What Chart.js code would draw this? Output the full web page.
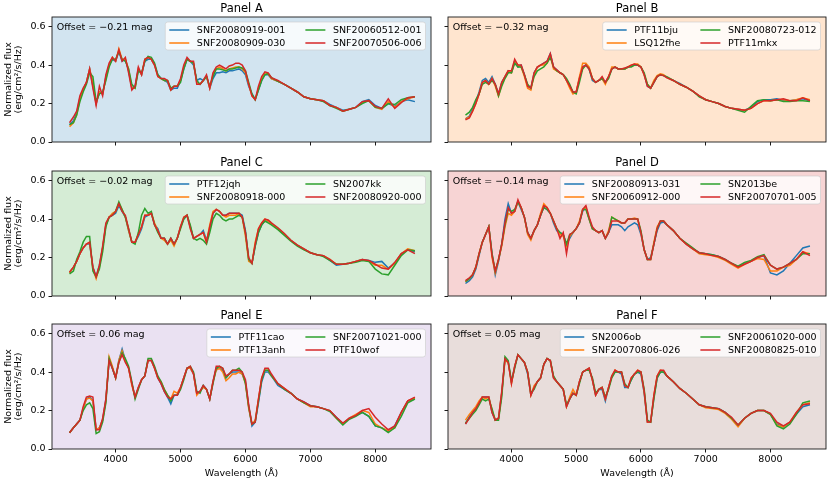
<!DOCTYPE html>
<html lang="en">
<head>
  <meta charset="UTF-8">
  <title>SN Ia spectra by panel</title>
  <script src="https://cdn.jsdelivr.net/npm/chart.js"></script>
  <style>
    body { margin: 0; background: #fff; }
    #fig { position: relative; width: 830px; height: 485px; }
    #fig canvas { position: absolute; }
  </style>
</head>
<body>
<div id="fig">
  <canvas id="panelA"></canvas>
  <canvas id="panelB"></canvas>
  <canvas id="panelC"></canvas>
  <canvas id="panelD"></canvas>
  <canvas id="panelE"></canvas>
  <canvas id="panelF"></canvas>
</div>

<script>
// wavelength grid (Angstrom), shared by every spectrum
const wavelength = [3290, 3350, 3400, 3450, 3500, 3550, 3600, 3650, 3700, 3750,
  3800, 3850, 3900, 3950, 4000, 4050, 4100, 4150, 4200, 4250,
  4300, 4350, 4400, 4450, 4500, 4550, 4600, 4650, 4700, 4750,
  4800, 4850, 4900, 4950, 5000, 5050, 5100, 5150, 5200, 5250,
  5300, 5350, 5400, 5450, 5500, 5550, 5600, 5650, 5700, 5750,
  5800, 5850, 5900, 5950, 6000, 6050, 6100, 6150, 6200, 6250,
  6300, 6350, 6400, 6500, 6600, 6700, 6800, 6900, 7000, 7100,
  7200, 7300, 7400, 7500, 7600, 7700, 7800, 7900, 8000, 8100,
  8200, 8300, 8400, 8500, 8610];

const xTicks = [4000, 5000, 6000, 7000, 8000];
const yTicks = [0, 0.2, 0.4, 0.6];

// Panel A
const snf20080919_001 = [0.09, 0.11, 0.15, 0.23, 0.27, 0.31, 0.38, 0.29, 0.20, 0.26,
  0.25, 0.34, 0.40, 0.43, 0.42, 0.47, 0.42, 0.43, 0.37, 0.28,
  0.29, 0.38, 0.35, 0.42, 0.43, 0.43, 0.40, 0.35, 0.33, 0.32,
  0.31, 0.27, 0.28, 0.28, 0.32, 0.38, 0.43, 0.42, 0.40, 0.32,
  0.33, 0.32, 0.34, 0.28, 0.33, 0.36, 0.36, 0.365, 0.36, 0.37,
  0.37, 0.375, 0.38, 0.37, 0.35, 0.29, 0.25, 0.22, 0.27, 0.32,
  0.35, 0.35, 0.33, 0.315, 0.30, 0.28, 0.26, 0.235, 0.225, 0.22,
  0.215, 0.195, 0.18, 0.165, 0.17, 0.18, 0.21, 0.22, 0.19, 0.175,
  0.20, 0.185, 0.21, 0.22, 0.21];
const snf20080909_030 = [0.08, 0.10, 0.14, 0.22, 0.27, 0.31, 0.38, 0.31, 0.20, 0.26,
  0.25, 0.33, 0.40, 0.44, 0.42, 0.485, 0.43, 0.43, 0.38, 0.28,
  0.28, 0.38, 0.35, 0.43, 0.44, 0.43, 0.40, 0.34, 0.33, 0.32,
  0.32, 0.27, 0.29, 0.29, 0.32, 0.39, 0.43, 0.42, 0.41, 0.31,
  0.30, 0.32, 0.34, 0.28, 0.35, 0.38, 0.39, 0.38, 0.37, 0.38,
  0.385, 0.39, 0.39, 0.38, 0.36, 0.30, 0.24, 0.22, 0.28, 0.33,
  0.36, 0.355, 0.33, 0.315, 0.30, 0.28, 0.26, 0.235, 0.225, 0.22,
  0.215, 0.19, 0.18, 0.16, 0.17, 0.18, 0.205, 0.215, 0.18, 0.17,
  0.21, 0.18, 0.21, 0.225, 0.235];
const snf20060512_001 = [0.09, 0.10, 0.14, 0.21, 0.26, 0.30, 0.36, 0.34, 0.21, 0.25,
  0.26, 0.32, 0.39, 0.43, 0.43, 0.47, 0.43, 0.42, 0.38, 0.30,
  0.28, 0.37, 0.36, 0.42, 0.445, 0.44, 0.41, 0.35, 0.33, 0.32,
  0.32, 0.28, 0.29, 0.29, 0.31, 0.38, 0.43, 0.42, 0.41, 0.32,
  0.30, 0.32, 0.34, 0.29, 0.34, 0.38, 0.38, 0.375, 0.37, 0.38,
  0.38, 0.385, 0.39, 0.385, 0.37, 0.31, 0.25, 0.22, 0.27, 0.32,
  0.35, 0.355, 0.335, 0.315, 0.30, 0.28, 0.26, 0.235, 0.225, 0.22,
  0.21, 0.19, 0.175, 0.16, 0.17, 0.18, 0.20, 0.215, 0.18, 0.175,
  0.20, 0.195, 0.22, 0.23, 0.235];
const snf20070506_006 = [0.10, 0.13, 0.16, 0.24, 0.28, 0.31, 0.38, 0.28, 0.19, 0.29,
  0.24, 0.35, 0.41, 0.44, 0.42, 0.48, 0.42, 0.44, 0.36, 0.27,
  0.29, 0.39, 0.35, 0.43, 0.44, 0.43, 0.40, 0.34, 0.33, 0.33,
  0.32, 0.27, 0.29, 0.29, 0.33, 0.40, 0.44, 0.42, 0.42, 0.30,
  0.30, 0.32, 0.35, 0.28, 0.36, 0.39, 0.40, 0.39, 0.38, 0.395,
  0.40, 0.41, 0.41, 0.40, 0.37, 0.30, 0.24, 0.22, 0.29, 0.34,
  0.365, 0.36, 0.335, 0.32, 0.30, 0.28, 0.26, 0.235, 0.225, 0.22,
  0.215, 0.19, 0.18, 0.16, 0.17, 0.18, 0.21, 0.215, 0.185, 0.175,
  0.225, 0.175, 0.205, 0.23, 0.235];

// Panel B
const ptf11bju = [0.12, 0.135, 0.17, 0.21, 0.26, 0.32, 0.33, 0.31, 0.34, 0.30,
  0.25, 0.31, 0.34, 0.37, 0.36, 0.42, 0.39, 0.40, 0.35, 0.29,
  0.28, 0.36, 0.39, 0.40, 0.41, 0.42, 0.46, 0.39, 0.375, 0.36,
  0.35, 0.32, 0.29, 0.26, 0.26, 0.33, 0.39, 0.40, 0.38, 0.32,
  0.31, 0.32, 0.33, 0.31, 0.34, 0.38, 0.39, 0.38, 0.38, 0.38,
  0.39, 0.395, 0.40, 0.40, 0.39, 0.35, 0.29, 0.28, 0.31, 0.34,
  0.35, 0.345, 0.335, 0.32, 0.305, 0.285, 0.265, 0.24, 0.22, 0.21,
  0.20, 0.185, 0.175, 0.17, 0.165, 0.18, 0.21, 0.22, 0.22, 0.225,
  0.215, 0.215, 0.22, 0.225, 0.215];
const lsq12fhe = [0.12, 0.13, 0.16, 0.20, 0.25, 0.31, 0.32, 0.30, 0.33, 0.29,
  0.24, 0.30, 0.34, 0.37, 0.36, 0.42, 0.40, 0.39, 0.34, 0.28,
  0.27, 0.35, 0.39, 0.40, 0.40, 0.41, 0.45, 0.38, 0.37, 0.36,
  0.35, 0.32, 0.28, 0.25, 0.26, 0.34, 0.41, 0.41, 0.39, 0.33,
  0.31, 0.32, 0.33, 0.30, 0.34, 0.39, 0.39, 0.38, 0.38, 0.38,
  0.39, 0.40, 0.405, 0.405, 0.39, 0.35, 0.30, 0.28, 0.32, 0.345,
  0.355, 0.35, 0.335, 0.32, 0.30, 0.285, 0.265, 0.24, 0.22, 0.21,
  0.20, 0.185, 0.175, 0.17, 0.165, 0.175, 0.20, 0.215, 0.215, 0.22,
  0.22, 0.215, 0.22, 0.23, 0.22];
const snf20080723_012 = [0.14, 0.155, 0.18, 0.22, 0.25, 0.30, 0.31, 0.30, 0.32, 0.30,
  0.24, 0.29, 0.33, 0.36, 0.36, 0.41, 0.39, 0.39, 0.35, 0.30,
  0.28, 0.34, 0.37, 0.38, 0.39, 0.41, 0.44, 0.39, 0.37, 0.36,
  0.35, 0.33, 0.30, 0.26, 0.25, 0.31, 0.38, 0.40, 0.38, 0.33,
  0.31, 0.32, 0.33, 0.31, 0.33, 0.38, 0.39, 0.38, 0.38, 0.38,
  0.39, 0.39, 0.40, 0.40, 0.39, 0.36, 0.30, 0.28, 0.31, 0.34,
  0.35, 0.345, 0.34, 0.32, 0.30, 0.285, 0.265, 0.235, 0.22, 0.21,
  0.20, 0.185, 0.175, 0.165, 0.155, 0.185, 0.215, 0.22, 0.215, 0.22,
  0.21, 0.21, 0.215, 0.215, 0.21];
const ptf11mkx = [0.115, 0.125, 0.16, 0.20, 0.25, 0.31, 0.32, 0.30, 0.33, 0.30,
  0.25, 0.31, 0.34, 0.37, 0.37, 0.43, 0.40, 0.40, 0.35, 0.29,
  0.28, 0.36, 0.39, 0.40, 0.41, 0.42, 0.46, 0.39, 0.375, 0.36,
  0.35, 0.32, 0.29, 0.26, 0.26, 0.33, 0.39, 0.40, 0.38, 0.33,
  0.31, 0.32, 0.34, 0.31, 0.34, 0.38, 0.39, 0.38, 0.38, 0.385,
  0.39, 0.40, 0.405, 0.40, 0.39, 0.35, 0.29, 0.28, 0.31, 0.34,
  0.35, 0.345, 0.335, 0.32, 0.30, 0.285, 0.265, 0.24, 0.22, 0.21,
  0.20, 0.185, 0.175, 0.17, 0.165, 0.175, 0.20, 0.215, 0.215, 0.22,
  0.225, 0.215, 0.215, 0.23, 0.215];

// Panel C
const ptf12jqh = [0.12, 0.15, 0.18, 0.22, 0.25, 0.27, 0.27, 0.15, 0.10, 0.16,
  0.25, 0.37, 0.41, 0.42, 0.43, 0.47, 0.44, 0.41, 0.34, 0.28,
  0.28, 0.31, 0.35, 0.41, 0.42, 0.43, 0.37, 0.35, 0.30, 0.30,
  0.27, 0.30, 0.27, 0.30, 0.36, 0.40, 0.42, 0.36, 0.30, 0.31,
  0.32, 0.34, 0.29, 0.35, 0.43, 0.45, 0.44, 0.42, 0.42, 0.43,
  0.43, 0.43, 0.43, 0.42, 0.34, 0.19, 0.17, 0.26, 0.33, 0.37,
  0.39, 0.39, 0.375, 0.35, 0.32, 0.29, 0.265, 0.245, 0.225, 0.215,
  0.21, 0.185, 0.16, 0.165, 0.17, 0.18, 0.19, 0.185, 0.175, 0.18,
  0.145, 0.17, 0.22, 0.24, 0.23];
const snf20080918_000 = [0.12, 0.15, 0.18, 0.22, 0.25, 0.27, 0.28, 0.14, 0.09, 0.15,
  0.25, 0.37, 0.41, 0.43, 0.44, 0.48, 0.45, 0.41, 0.34, 0.28,
  0.28, 0.32, 0.36, 0.42, 0.42, 0.43, 0.38, 0.34, 0.30, 0.29,
  0.27, 0.29, 0.26, 0.30, 0.36, 0.41, 0.42, 0.36, 0.30, 0.31,
  0.32, 0.33, 0.28, 0.37, 0.44, 0.45, 0.44, 0.42, 0.41, 0.42,
  0.42, 0.42, 0.43, 0.41, 0.31, 0.18, 0.17, 0.28, 0.35, 0.38,
  0.40, 0.39, 0.375, 0.35, 0.32, 0.29, 0.265, 0.245, 0.225, 0.215,
  0.21, 0.19, 0.165, 0.165, 0.17, 0.18, 0.19, 0.18, 0.16, 0.16,
  0.14, 0.17, 0.22, 0.245, 0.235];
const sn2007kk = [0.115, 0.13, 0.19, 0.23, 0.28, 0.31, 0.31, 0.13, 0.10, 0.14,
  0.23, 0.36, 0.41, 0.42, 0.44, 0.49, 0.45, 0.41, 0.35, 0.28,
  0.27, 0.33, 0.42, 0.455, 0.43, 0.44, 0.37, 0.33, 0.30, 0.30,
  0.27, 0.30, 0.27, 0.30, 0.35, 0.40, 0.42, 0.37, 0.30, 0.29,
  0.30, 0.29, 0.27, 0.33, 0.40, 0.43, 0.42, 0.40, 0.39, 0.40,
  0.40, 0.41, 0.42, 0.41, 0.33, 0.19, 0.17, 0.26, 0.33, 0.37,
  0.39, 0.38, 0.37, 0.345, 0.315, 0.285, 0.26, 0.24, 0.225, 0.215,
  0.205, 0.185, 0.165, 0.165, 0.17, 0.175, 0.185, 0.18, 0.14, 0.115,
  0.11, 0.16, 0.21, 0.24, 0.235];
const snf20080920_000 = [0.125, 0.15, 0.18, 0.22, 0.25, 0.27, 0.28, 0.15, 0.10, 0.16,
  0.26, 0.38, 0.41, 0.42, 0.44, 0.48, 0.44, 0.42, 0.35, 0.28,
  0.28, 0.32, 0.36, 0.42, 0.42, 0.43, 0.37, 0.34, 0.30, 0.30,
  0.27, 0.30, 0.27, 0.30, 0.36, 0.41, 0.42, 0.35, 0.30, 0.31,
  0.32, 0.33, 0.28, 0.36, 0.43, 0.45, 0.44, 0.42, 0.42, 0.43,
  0.43, 0.43, 0.43, 0.41, 0.33, 0.20, 0.17, 0.27, 0.35, 0.38,
  0.40, 0.395, 0.38, 0.355, 0.325, 0.29, 0.265, 0.245, 0.225, 0.215,
  0.21, 0.19, 0.165, 0.165, 0.17, 0.18, 0.19, 0.185, 0.165, 0.145,
  0.14, 0.175, 0.22, 0.24, 0.22];

// Panel D
const snf20080913_031 = [0.065, 0.08, 0.10, 0.14, 0.21, 0.28, 0.32, 0.36, 0.22, 0.11,
  0.18, 0.27, 0.40, 0.48, 0.43, 0.44, 0.49, 0.45, 0.41, 0.33,
  0.30, 0.34, 0.37, 0.42, 0.46, 0.45, 0.43, 0.38, 0.34, 0.33,
  0.32, 0.27, 0.30, 0.33, 0.35, 0.38, 0.44, 0.46, 0.40, 0.35,
  0.34, 0.33, 0.34, 0.30, 0.33, 0.37, 0.37, 0.37, 0.36, 0.34,
  0.36, 0.37, 0.38, 0.37, 0.32, 0.24, 0.19, 0.20, 0.27, 0.34,
  0.38, 0.385, 0.37, 0.34, 0.30, 0.27, 0.245, 0.225, 0.22, 0.215,
  0.205, 0.19, 0.17, 0.15, 0.17, 0.18, 0.20, 0.21, 0.12, 0.11,
  0.13, 0.17, 0.21, 0.25, 0.26];
const snf20060912_000 = [0.075, 0.09, 0.11, 0.15, 0.22, 0.28, 0.32, 0.36, 0.20, 0.12,
  0.19, 0.26, 0.36, 0.43, 0.42, 0.44, 0.49, 0.46, 0.41, 0.32,
  0.29, 0.34, 0.37, 0.43, 0.48, 0.46, 0.43, 0.39, 0.35, 0.32,
  0.31, 0.26, 0.31, 0.33, 0.35, 0.39, 0.45, 0.46, 0.40, 0.35,
  0.34, 0.33, 0.34, 0.30, 0.34, 0.41, 0.40, 0.39, 0.38, 0.38,
  0.40, 0.40, 0.405, 0.40, 0.33, 0.24, 0.19, 0.19, 0.28, 0.36,
  0.39, 0.39, 0.37, 0.34, 0.30, 0.27, 0.245, 0.22, 0.215, 0.21,
  0.20, 0.185, 0.165, 0.145, 0.165, 0.18, 0.195, 0.19, 0.13, 0.13,
  0.15, 0.16, 0.19, 0.23, 0.22];
const sn2013be = [0.075, 0.09, 0.11, 0.15, 0.22, 0.28, 0.32, 0.36, 0.22, 0.13,
  0.19, 0.27, 0.37, 0.45, 0.44, 0.45, 0.49, 0.46, 0.41, 0.33,
  0.30, 0.34, 0.37, 0.42, 0.46, 0.45, 0.43, 0.39, 0.35, 0.33,
  0.32, 0.27, 0.32, 0.33, 0.35, 0.38, 0.45, 0.45, 0.40, 0.35,
  0.34, 0.33, 0.34, 0.30, 0.33, 0.41, 0.40, 0.39, 0.38, 0.38,
  0.40, 0.40, 0.40, 0.40, 0.34, 0.24, 0.19, 0.19, 0.27, 0.35,
  0.39, 0.39, 0.37, 0.34, 0.30, 0.275, 0.25, 0.225, 0.22, 0.215,
  0.205, 0.19, 0.17, 0.155, 0.175, 0.185, 0.205, 0.215, 0.16, 0.14,
  0.15, 0.17, 0.19, 0.22, 0.22];
const snf20070701_005 = [0.08, 0.095, 0.11, 0.15, 0.22, 0.28, 0.32, 0.36, 0.21, 0.13,
  0.19, 0.27, 0.38, 0.46, 0.43, 0.44, 0.50, 0.46, 0.41, 0.33,
  0.30, 0.34, 0.37, 0.42, 0.47, 0.46, 0.43, 0.39, 0.35, 0.30,
  0.33, 0.22, 0.32, 0.33, 0.35, 0.38, 0.45, 0.47, 0.41, 0.36,
  0.34, 0.33, 0.34, 0.30, 0.33, 0.39, 0.39, 0.39, 0.38, 0.38,
  0.40, 0.40, 0.40, 0.40, 0.33, 0.24, 0.19, 0.19, 0.27, 0.35,
  0.39, 0.39, 0.37, 0.34, 0.30, 0.27, 0.245, 0.225, 0.22, 0.21,
  0.205, 0.19, 0.17, 0.15, 0.165, 0.18, 0.20, 0.21, 0.16, 0.14,
  0.15, 0.17, 0.19, 0.23, 0.21];

// Panel E
const ptf11cao = [0.085, 0.11, 0.13, 0.15, 0.21, 0.26, 0.27, 0.25, 0.10, 0.11,
  0.15, 0.26, 0.46, 0.42, 0.37, 0.46, 0.52, 0.46, 0.42, 0.34,
  0.27, 0.32, 0.36, 0.38, 0.46, 0.46, 0.42, 0.37, 0.34, 0.30,
  0.27, 0.235, 0.28, 0.28, 0.32, 0.37, 0.42, 0.42, 0.39, 0.29,
  0.30, 0.33, 0.31, 0.26, 0.35, 0.42, 0.42, 0.41, 0.37, 0.39,
  0.40, 0.40, 0.40, 0.39, 0.35, 0.22, 0.12, 0.14, 0.24, 0.35,
  0.40, 0.40, 0.38, 0.33, 0.31, 0.29, 0.26, 0.245, 0.225, 0.22,
  0.21, 0.20, 0.165, 0.13, 0.16, 0.175, 0.19, 0.17, 0.12, 0.11,
  0.09, 0.12, 0.19, 0.25, 0.26];
const ptf13anh = [0.085, 0.11, 0.13, 0.15, 0.21, 0.26, 0.265, 0.25, 0.10, 0.11,
  0.15, 0.25, 0.48, 0.43, 0.37, 0.46, 0.51, 0.46, 0.42, 0.33,
  0.27, 0.32, 0.36, 0.38, 0.46, 0.46, 0.42, 0.37, 0.35, 0.31,
  0.28, 0.26, 0.30, 0.29, 0.32, 0.37, 0.42, 0.42, 0.39, 0.28,
  0.30, 0.32, 0.31, 0.26, 0.35, 0.41, 0.42, 0.40, 0.355, 0.37,
  0.39, 0.39, 0.40, 0.39, 0.34, 0.21, 0.13, 0.15, 0.26, 0.37,
  0.41, 0.41, 0.38, 0.34, 0.315, 0.29, 0.26, 0.24, 0.22, 0.22,
  0.21, 0.20, 0.16, 0.13, 0.16, 0.18, 0.20, 0.19, 0.13, 0.11,
  0.095, 0.11, 0.19, 0.25, 0.265];
const snf20071021_000 = [0.085, 0.11, 0.13, 0.15, 0.20, 0.23, 0.24, 0.21, 0.08, 0.09,
  0.14, 0.24, 0.47, 0.42, 0.37, 0.45, 0.50, 0.47, 0.43, 0.35,
  0.26, 0.31, 0.36, 0.38, 0.47, 0.47, 0.43, 0.38, 0.35, 0.31,
  0.28, 0.25, 0.28, 0.28, 0.31, 0.36, 0.42, 0.43, 0.40, 0.30,
  0.29, 0.33, 0.31, 0.26, 0.34, 0.42, 0.43, 0.42, 0.37, 0.39,
  0.41, 0.41, 0.42, 0.40, 0.34, 0.22, 0.13, 0.14, 0.25, 0.36,
  0.41, 0.41, 0.38, 0.34, 0.31, 0.29, 0.26, 0.24, 0.225, 0.22,
  0.21, 0.195, 0.16, 0.125, 0.155, 0.17, 0.19, 0.17, 0.12, 0.11,
  0.085, 0.11, 0.17, 0.24, 0.26];
const ptf10wof = [0.085, 0.11, 0.13, 0.15, 0.22, 0.27, 0.275, 0.27, 0.10, 0.10,
  0.16, 0.26, 0.46, 0.42, 0.37, 0.45, 0.49, 0.45, 0.42, 0.34,
  0.27, 0.32, 0.36, 0.38, 0.46, 0.46, 0.42, 0.37, 0.34, 0.30,
  0.27, 0.26, 0.28, 0.28, 0.32, 0.37, 0.42, 0.43, 0.39, 0.29,
  0.30, 0.33, 0.31, 0.26, 0.35, 0.43, 0.43, 0.42, 0.38, 0.39,
  0.41, 0.41, 0.41, 0.40, 0.36, 0.23, 0.13, 0.14, 0.26, 0.37,
  0.42, 0.42, 0.39, 0.34, 0.315, 0.29, 0.26, 0.245, 0.225, 0.22,
  0.21, 0.20, 0.165, 0.135, 0.16, 0.175, 0.20, 0.21, 0.165, 0.13,
  0.10, 0.12, 0.19, 0.25, 0.27];

// Panel F
const sn2006ob = [0.13, 0.17, 0.19, 0.21, 0.24, 0.27, 0.27, 0.27, 0.19, 0.15,
  0.16, 0.29, 0.47, 0.45, 0.35, 0.43, 0.49, 0.47, 0.45, 0.39,
  0.28, 0.32, 0.35, 0.37, 0.44, 0.47, 0.46, 0.37, 0.35, 0.33,
  0.31, 0.22, 0.26, 0.29, 0.28, 0.35, 0.40, 0.41, 0.42, 0.36,
  0.28, 0.31, 0.31, 0.25, 0.32, 0.38, 0.40, 0.40, 0.39, 0.32,
  0.32, 0.36, 0.39, 0.40, 0.39, 0.29, 0.14, 0.14, 0.27, 0.37,
  0.40, 0.40, 0.38, 0.35, 0.315, 0.29, 0.26, 0.23, 0.22, 0.215,
  0.21, 0.19, 0.16, 0.12, 0.16, 0.185, 0.20, 0.20, 0.18, 0.13,
  0.115, 0.14, 0.18, 0.22, 0.23];
const snf20070806_026 = [0.15, 0.18, 0.20, 0.22, 0.25, 0.27, 0.26, 0.27, 0.20, 0.15,
  0.16, 0.29, 0.46, 0.45, 0.34, 0.43, 0.49, 0.47, 0.45, 0.40,
  0.28, 0.33, 0.35, 0.37, 0.44, 0.47, 0.46, 0.37, 0.35, 0.33,
  0.31, 0.22, 0.27, 0.31, 0.28, 0.35, 0.40, 0.41, 0.42, 0.36,
  0.28, 0.31, 0.32, 0.26, 0.32, 0.38, 0.41, 0.40, 0.40, 0.33,
  0.32, 0.37, 0.39, 0.41, 0.40, 0.30, 0.14, 0.14, 0.28, 0.38,
  0.41, 0.405, 0.38, 0.35, 0.315, 0.29, 0.26, 0.23, 0.215, 0.21,
  0.205, 0.185, 0.155, 0.115, 0.16, 0.185, 0.20, 0.20, 0.18, 0.125,
  0.115, 0.14, 0.19, 0.23, 0.24];
const snf20061020_000 = [0.135, 0.16, 0.18, 0.20, 0.23, 0.26, 0.25, 0.26, 0.21, 0.15,
  0.15, 0.27, 0.48, 0.46, 0.35, 0.42, 0.49, 0.47, 0.45, 0.40,
  0.29, 0.31, 0.35, 0.37, 0.44, 0.47, 0.46, 0.38, 0.35, 0.33,
  0.31, 0.23, 0.26, 0.29, 0.28, 0.34, 0.40, 0.41, 0.41, 0.37,
  0.29, 0.31, 0.32, 0.27, 0.31, 0.37, 0.40, 0.40, 0.40, 0.34,
  0.32, 0.36, 0.39, 0.40, 0.40, 0.31, 0.15, 0.14, 0.26, 0.37,
  0.40, 0.40, 0.38, 0.35, 0.315, 0.29, 0.26, 0.23, 0.22, 0.215,
  0.21, 0.19, 0.16, 0.125, 0.16, 0.185, 0.20, 0.20, 0.18, 0.12,
  0.105, 0.13, 0.18, 0.24, 0.25];
const snf20080825_010 = [0.13, 0.16, 0.19, 0.21, 0.24, 0.27, 0.27, 0.27, 0.19, 0.15,
  0.16, 0.30, 0.47, 0.45, 0.34, 0.43, 0.49, 0.47, 0.45, 0.40,
  0.28, 0.32, 0.35, 0.37, 0.44, 0.47, 0.46, 0.37, 0.35, 0.33,
  0.31, 0.22, 0.26, 0.29, 0.28, 0.35, 0.40, 0.41, 0.42, 0.36,
  0.28, 0.31, 0.32, 0.26, 0.32, 0.38, 0.41, 0.40, 0.40, 0.33,
  0.32, 0.37, 0.39, 0.41, 0.40, 0.30, 0.14, 0.14, 0.28, 0.38,
  0.41, 0.41, 0.38, 0.35, 0.315, 0.29, 0.26, 0.23, 0.22, 0.215,
  0.21, 0.19, 0.165, 0.125, 0.16, 0.185, 0.20, 0.20, 0.185, 0.14,
  0.12, 0.14, 0.19, 0.23, 0.235];

const namesA = ['SNF20080919-001', 'SNF20080909-030', 'SNF20060512-001', 'SNF20070506-006'];
const namesB = ['PTF11bju', 'LSQ12fhe', 'SNF20080723-012', 'PTF11mkx'];
const namesC = ['PTF12jqh', 'SNF20080918-000', 'SN2007kk', 'SNF20080920-000'];
const namesD = ['SNF20080913-031', 'SNF20060912-000', 'SN2013be', 'SNF20070701-005'];
const namesE = ['PTF11cao', 'PTF13anh', 'SNF20071021-000', 'PTF10wof'];
const namesF = ['SN2006ob', 'SNF20070806-026', 'SNF20061020-000', 'SNF20080825-010'];

const offsets = ['\u22120.21', '\u22120.32', '\u22120.02', '\u22120.14', '0.06', '0.05'];

const lineColors = ['#1f77b4', '#ff7f0e', '#2ca02c', '#d62728'];
const faceColors = ['#d2e4f0', '#ffe5cf', '#d5ecd5', '#f7d4d4', '#eae1f2', '#e8dddb'];

Chart.defaults.font.family = "'DejaVu Sans', sans-serif";
Chart.defaults.color = '#000';

// axes boxes in page pixels (matplotlib-like grid of 3 rows x 2 cols)
const cols = [
  { canvasX: 0, canvasW: 436, padL: 52, padR: 5 },
  { canvasX: 436, canvasW: 394, padL: 12, padR: 4 }
];
const rows = [
  { canvasY: 0, canvasH: 154, padT: 17, padB: 12 },
  { canvasY: 154, canvasH: 154, padT: 17, padB: 12 },
  { canvasY: 307, canvasH: 178, padT: 17, padB: 36 }
];

// background, frame, title, offset note and a two-column legend
const panelDecor = {
  id: 'panelDecor',
  beforeDraw(chart, args, opts) {
    const { ctx, chartArea: a } = chart;
    ctx.save();
    ctx.fillStyle = opts.face;
    ctx.fillRect(a.left, a.top, a.right - a.left, a.bottom - a.top);
    ctx.restore();
  },
  afterDatasetsDraw(chart, args, opts) {
    const { ctx, chartArea: a } = chart;
    ctx.save();
    ctx.strokeStyle = '#1a1a1a';
    ctx.lineWidth = 0.9;
    ctx.strokeRect(a.left, a.top, a.right - a.left, a.bottom - a.top);

    ctx.fillStyle = '#000';
    ctx.font = "11.5px 'DejaVu Sans'";
    ctx.textAlign = 'center';
    ctx.textBaseline = 'alphabetic';
    ctx.fillText(opts.title, (a.left + a.right) / 2, a.top - 5.3);

    ctx.font = "9.5px 'DejaVu Sans'";
    ctx.textAlign = 'left';
    ctx.fillText('Offset = ' + opts.offset + ' mag', a.left + 4.7, a.top + 13.2);

    // legend, filled column by column like matplotlib ncol=2
    const names = chart.data.datasets.map(d => d.label);
    const w = names.map(n => ctx.measureText(n).width);
    const handle = 20, gap = 7.6, colGap = 20, pad = 4;
    const col1 = handle + gap + Math.max(w[0], w[1]);
    const col2 = handle + gap + Math.max(w[2], w[3]);
    const boxW = pad * 2 + col1 + colGap + col2;
    const boxH = 28;
    const right = a.right - 5.5, top = a.top + 5;
    const left = right - boxW;
    ctx.beginPath();
    ctx.roundRect(left, top, boxW, boxH, 2.5);
    ctx.fillStyle = 'rgba(255,255,255,0.8)';
    ctx.fill();
    ctx.strokeStyle = 'rgba(204,204,204,0.8)';
    ctx.lineWidth = 0.8;
    ctx.stroke();
    const rowY = [top + 8, top + 21];
    chart.data.datasets.forEach((d, i) => {
      const cx = left + pad + (i < 2 ? 0 : col1 + colGap);
      const cy = rowY[i % 2];
      ctx.strokeStyle = d.borderColor;
      ctx.lineWidth = 1.5;
      ctx.beginPath();
      ctx.moveTo(cx, cy);
      ctx.lineTo(cx + handle, cy);
      ctx.stroke();
      ctx.fillStyle = '#000';
      ctx.fillText(d.label, cx + handle + gap, cy + 3.4);
    });
    ctx.restore();
  }
};

function makePanel(id, idx, names, series) {
  const col = cols[idx % 2];
  const row = rows[Math.floor(idx / 2)];
  const bottomRow = idx >= 4;
  const leftCol = idx % 2 === 0;
  const canvas = document.getElementById(id);
  canvas.width = col.canvasW;
  canvas.height = row.canvasH;
  canvas.style.left = col.canvasX + 'px';
  canvas.style.top = row.canvasY + 'px';

  const datasets = series.map((vals, i) => ({
    label: names[i],
    data: wavelength.map((x, j) => ({ x: x, y: vals[j] })),
    borderColor: lineColors[i],
    backgroundColor: lineColors[i],
    borderWidth: 1.5,
    pointRadius: 0,
    tension: 0,
    fill: false,
    order: 3 - i
  }));

  return new Chart(canvas, {
    type: 'line',
    data: { datasets: datasets },
    plugins: [panelDecor],
    options: {
      responsive: false,
      animation: false,
      events: [],
      layout: { padding: { top: row.padT, right: col.padR, left: 0, bottom: 0 } },
      plugins: {
        legend: { display: false },
        tooltip: { enabled: false },
        panelDecor: { face: faceColors[idx], title: 'Panel ' + 'ABCDEF'[idx], offset: offsets[idx] }
      },
      scales: {
        x: {
          type: 'linear',
          min: 3020,
          max: 8858,
          afterBuildTicks: s => { s.ticks = xTicks.map(v => ({ value: v })); },
          afterFit: s => { s.height = row.padB; },
          border: { display: false },
          grid: { drawOnChartArea: false, drawTicks: true, tickLength: 3.5, tickColor: '#000', tickWidth: 0.9 },
          ticks: {
            autoSkip: false, maxRotation: 0, padding: 1,
            font: { size: 9.5 },
            callback: v => bottomRow ? String(v) : ''
          },
          title: {
            display: bottomRow,
            text: 'Wavelength (\u00c5)',
            font: { size: 9.5 },
            padding: { top: 0, bottom: 5.3 }
          }
        },
        y: {
          min: 0,
          max: 0.65,
          afterBuildTicks: s => { s.ticks = yTicks.map(v => ({ value: v })); },
          afterFit: s => { s.width = col.padL; },
          border: { display: false },
          grid: { drawOnChartArea: false, drawTicks: true, tickLength: 3.5, tickColor: '#000', tickWidth: 0.9 },
          ticks: {
            padding: 3,
            font: { size: 9.5 },
            callback: v => leftCol ? v.toFixed(1) : ''
          },
          title: {
            display: leftCol,
            text: ['Normalized flux', '(erg/cm\u00b2/s/Hz)'],
            font: { size: 9.5, lineHeight: 1.1 },
            padding: { top: 3, bottom: 0 }
          }
        }
      }
    }
  });
}

makePanel('panelA', 0, namesA, [snf20080919_001, snf20080909_030, snf20060512_001, snf20070506_006]);
makePanel('panelB', 1, namesB, [ptf11bju, lsq12fhe, snf20080723_012, ptf11mkx]);
makePanel('panelC', 2, namesC, [ptf12jqh, snf20080918_000, sn2007kk, snf20080920_000]);
makePanel('panelD', 3, namesD, [snf20080913_031, snf20060912_000, sn2013be, snf20070701_005]);
makePanel('panelE', 4, namesE, [ptf11cao, ptf13anh, snf20071021_000, ptf10wof]);
makePanel('panelF', 5, namesF, [sn2006ob, snf20070806_026, snf20061020_000, snf20080825_010]);
</script>
</body>
</html>
